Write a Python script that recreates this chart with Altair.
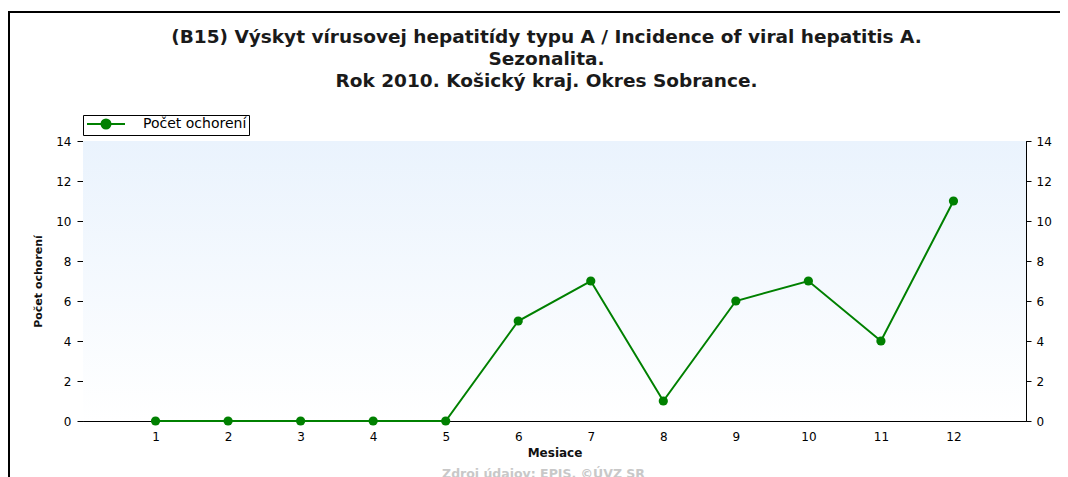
import altair as alt
import pandas as pd

# ---- data ----
months = [1, 2, 3, 4, 5, 6, 7, 8, 9, 10, 11, 12]
cases = [0, 0, 0, 0, 0, 5, 7, 1, 6, 7, 4, 11]
series_name = "Počet ochorení"
x_tick_values = [1, 2, 3, 4, 5, 6, 7, 8, 9, 10, 11, 12]
y_major_ticks = [0, 2, 4, 6, 8, 10, 12, 14]
y_minor_ticks = [0, 0.5, 1, 1.5, 2, 2.5, 3, 3.5, 4, 4.5, 5, 5.5, 6, 6.5, 7,
                 7.5, 8, 8.5, 9, 9.5, 10, 10.5, 11, 11.5, 12, 12.5, 13, 13.5, 14]
y_odd_ticks = [1, 3, 5, 7, 9, 11, 13]
title_lines = [
    "(B15) Výskyt vírusovej hepatitídy typu A / Incidence of viral hepatitis A.",
    "Sezonalita.",
    "Rok 2010. Košický kraj. Okres Sobrance.",
]
x_title = "Mesiace"
y_title = "Počet ochorení"
footer = "Zdroj údajov: EPIS, ©ÚVZ SR"

df = pd.DataFrame({"Mesiac": months, "Pocet": cases, "Seria": [series_name] * len(months)})

W, H = 943, 280
WIDE = "DejaVu Sans"
GREEN = "#008000"

xs = alt.Scale(domain=[0, 13], nice=False, zero=False)
ys = alt.Scale(domain=[0, 14], nice=False)

base = alt.Chart(df)
one = alt.Chart(pd.DataFrame({"k": [0]}))

# background gradient of plot area
bg = one.mark_rect(
    color=alt.Gradient(
        gradient="linear",
        stops=[alt.GradientStop(color="#EAF3FD", offset=0),
               alt.GradientStop(color="#FFFFFF", offset=1)],
        x1=0, x2=0, y1=0, y2=1,
    )
).encode(x=alt.value(0), x2=alt.value(W), y=alt.value(0), y2=alt.value(H))

# outer frame (left and top edges)
frame_left = one.mark_rule(color="black", strokeWidth=2).encode(
    x=alt.value(-74), y=alt.value(-129), y2=alt.value(H + 60))
frame_top = one.mark_rule(color="black", strokeWidth=2).encode(
    x=alt.value(-75), x2=alt.value(W + 40), y=alt.value(-129))

legend = alt.Legend(
    title=None, orient="none", legendX=0, legendY=-26,
    symbolType="M-1,0H6.6M1.9,0A0.9,0.9,0,1,0,3.7,0A0.9,0.9,0,1,0,1.9,0Z",
    symbolSize=100, symbolStrokeWidth=2, symbolFillColor=GREEN, symbolStrokeColor=GREEN,
    labelFont=WIDE, labelFontSize=14, labelColor="black", labelOffset=44,
    strokeColor="black", fillColor="white", padding=2, cornerRadius=0,
)

main = base.mark_line(
    strokeWidth=2, color=GREEN,
    point=alt.OverlayMarkDef(filled=True, size=85, color=GREEN, opacity=1),
).encode(
    x=alt.X("Mesiac:Q", scale=xs, axis=alt.Axis(
        values=x_tick_values, ticks=False, domain=True, domainColor="black",
        labelPadding=10, labelFontSize=12, labelFont=WIDE, labelColor="black",
        title=x_title, titleFont=WIDE, titleFontSize=12, titleFontWeight="bold",
        titlePadding=5, titleColor="#111", grid=False, labelFlush=False)),
    y=alt.Y("Pocet:Q", scale=ys, axis=alt.Axis(
        values=y_major_ticks, tickSize=6, tickColor="black", domainColor="black",
        labelPadding=6, labelFontSize=12, labelFont=WIDE, labelColor="black",
        title=y_title, titleFont=WIDE, titleFontSize=11, titleFontWeight="bold",
        titlePadding=12, titleColor="#111", grid=False)),
    color=alt.Color("Seria:N", scale=alt.Scale(range=[GREEN]), legend=legend),
)

ghost = base.mark_point(opacity=0)

layer_b = ghost.encode(
    x=alt.X("Mesiac:Q", scale=xs, axis=alt.Axis(
        orient="bottom", offset=-5, values=x_tick_values, tickSize=5, tickColor="black",
        domain=False, labels=False, title=None, grid=False)),
    y=alt.Y("Pocet:Q", scale=ys, axis=alt.Axis(
        orient="right", values=y_major_ticks, tickSize=5, tickColor="black",
        domainColor="black", labelPadding=5, labelFontSize=12, labelFont=WIDE,
        labelColor="black", title=None, grid=False)),
)

layer_c = ghost.encode(
    x=alt.X("Mesiac:Q", scale=xs, axis=alt.Axis(
        orient="top", offset=-5, values=x_tick_values, tickSize=5, tickColor="black",
        domain=False, labels=False, title=None, grid=False)),
    y=alt.Y("Pocet:Q", scale=ys, axis=alt.Axis(
        orient="left", offset=-4, values=y_minor_ticks, tickSize=4, tickColor="black",
        domain=False, labels=False, title=None, grid=False)),
)

layer_d = ghost.encode(
    x=alt.X("Mesiac:Q", scale=xs, axis=alt.Axis(
        orient="top", values=x_tick_values, ticks=False, domain=True, domainColor="black",
        labels=False, title=None, grid=False)),
    y=alt.Y("Pocet:Q", scale=ys, axis=alt.Axis(
        orient="right", offset=-5, values=y_minor_ticks, tickSize=5, tickColor="black",
        domain=False, labels=False, title=None, grid=False)),
)

layer_e = ghost.encode(
    y=alt.Y("Pocet:Q", scale=ys, axis=alt.Axis(
        orient="left", offset=-4, values=y_odd_ticks, tickSize=4, tickWidth=2,
        tickColor="black", domain=False, labels=False, title=None, grid=False)),
)
layer_f = ghost.encode(
    y=alt.Y("Pocet:Q", scale=ys, axis=alt.Axis(
        orient="right", offset=-5, values=y_odd_ticks, tickSize=5, tickWidth=2,
        tickColor="black", domain=False, labels=False, title=None, grid=False)),
)

foot = one.mark_text(
    text=footer, font=WIDE, fontSize=12.5, fontWeight="bold", color="#C8C8C8",
    align="center", baseline="top",
).encode(x=alt.value(W / 2 - 11), y=alt.value(H + 47))

chart = alt.layer(
    bg, frame_left, frame_top, layer_b, layer_c, layer_d, layer_e, layer_f, main, foot
).resolve_axis(x="independent", y="independent").properties(
    width=W, height=H,
    title=alt.TitleParams(
        text=title_lines, anchor="middle", font=WIDE, fontSize=18.5, fontWeight="bold",
        color="#1a1a1a", lineHeight=22, dx=-8, offset=0, dy=79,
    ),
    autosize=alt.AutoSizeParams(type="none"),
    padding={"left": 75, "top": 133, "right": 34, "bottom": 56},
).configure_view(stroke=None).configure(background="white")

chart.save("out.html", embed_options={"renderer": "svg", "actions": False})
